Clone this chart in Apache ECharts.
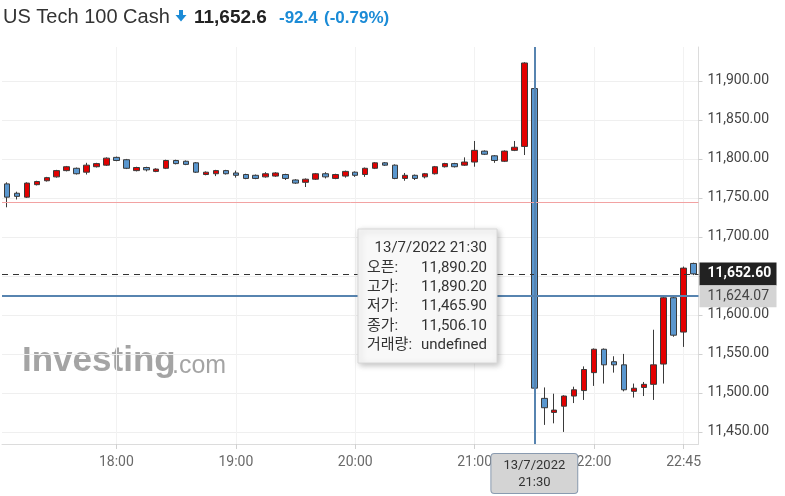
<!DOCTYPE html>
<html>
<head>
<meta charset="utf-8">
<style>
html,body{margin:0;padding:0;background:#fff;}
#chart{width:785px;height:496px;}
</style>
<script src="https://cdn.jsdelivr.net/npm/echarts@6.0.0/dist/echarts.min.js"></script>
</head>
<body>
<div id="chart"></div>
<script>
const times = ['17:05','17:10','17:15','17:20','17:25','17:30','17:35','17:40','17:45','17:50','17:55',
'18:00','18:05','18:10','18:15','18:20','18:25','18:30','18:35','18:40','18:45','18:50','18:55',
'19:00','19:05','19:10','19:15','19:20','19:25','19:30','19:35','19:40','19:45','19:50','19:55',
'20:00','20:05','20:10','20:15','20:20','20:25','20:30','20:35','20:40','20:45','20:50','20:55',
'21:00','21:05','21:10','21:15','21:20','21:25','21:30','21:35','21:40','21:45','21:50','21:55',
'22:00','22:05','22:10','22:15','22:20','22:25','22:30','22:35','22:40','22:45','22:50'];

const opens = [11768,11756,11751,11767,11772,11777,11785,11788,11783,11790,
11792,11802,11799,11785,11789,11784,11788,11798,11797,11795,
11780,11781,11785,11782,11780,11779,11777,11778,11780,11773,
11770,11774,11781,11775,11778,11783,11780,11788,11795,11792,
11775,11779,11777,11781,11790,11794,11792,11796,11810,11804,
11797,11811,11816,11890.2,11493,11475,11483,11496,11503,11526,
11556,11540,11536,11502,11507,11511,11537,11622,11578,11666];

const closes = [11751,11752,11769,11771,11776,11785,11790,11781,11792,11794,
11801,11798,11788,11789,11786,11787,11798,11794,11793,11783,
11783,11785,11781,11779,11775,11775,11781,11782,11775,11769,
11774,11781,11777,11780,11784,11779,11788,11795,11792,11775,
11779,11775,11781,11790,11794,11790,11796,11811,11806,11798,
11810,11815,11923,11506.1,11481,11478,11496,11504,11530,11556,
11536,11536,11504,11506,11511,11536,11622,11574,11660,11652.6];

const lows = [11738,11748,11750,11766,11771,11776,11784,11780,11780,11789,
11791,11797,11787,11784,11784,11783,11787,11793,11792,11782,
11779,11778,11780,11776,11774,11774,11776,11777,11773,11768,
11764,11773,11775,11774,11776,11777,11777,11787,11791,11774,
11772,11773,11775,11780,11789,11789,11791,11790,11805,11795,
11796,11810,11805,11465.9,11459,11461,11450,11487,11491,11509,
11512,11526,11502,11494,11496,11491,11512,11572,11559,11651];

const highs = [11770,11758,11770,11772,11777,11786,11791,11789,11795,11795,
11802,11803,11800,11790,11790,11788,11799,11799,11798,11796,
11784,11786,11786,11785,11781,11780,11783,11783,11781,11774,
11775,11782,11783,11781,11785,11784,11789,11796,11796,11793,
11782,11780,11782,11791,11795,11795,11802,11823,11811,11805,
11811,11823,11924,11890.2,11507,11499,11497,11508,11534,11557,
11557,11547,11550,11512,11514,11581,11623,11623,11662,11667];

const tickLabels = ['18:00','19:00','20:00','21:00','22:00','22:45'];

const titleName = 'US Tech 100 Cash';
const lastPrice = 11652.6;
const change = -92.4;
const changePct = -0.79;
const prevClose = 11745.0;
const crossPrice = 11624.07;
const crossTime = '21:30';
const crossDate = '13/7/2022';
const tipLabels = ['오픈:', '고가:', '저가:', '종가:', '거래량:'];

const fmt2 = v => v.toLocaleString('en-US', {minimumFractionDigits: 2, maximumFractionDigits: 2});
const fmt1 = v => v.toLocaleString('en-US', {minimumFractionDigits: 1, maximumFractionDigits: 1});

const ohlc = times.map((t, i) => [opens[i], closes[i], lows[i], highs[i]]);
const ci = times.indexOf(crossTime);
const tipValues = [fmt2(opens[ci]), fmt2(highs[ci]), fmt2(lows[ci]), fmt2(closes[ci]), 'undefined'];

const showTick = (idx, val) => tickLabels.indexOf(val) >= 0;

const NUMFONT = "Roboto, 'Noto Sans CJK KR', sans-serif";
const blue = '#1b8bd6';
const TZ = 200;

const tipChildren = [
  {type: 'rect', z: TZ, zlevel: 1, shape: {x: 0, y: 0, width: 139, height: 134},
   style: {fill: '#f8f8f8', stroke: '#d8d8d8', lineWidth: 1, shadowBlur: 6, shadowColor: 'rgba(0,0,0,0.25)', shadowOffsetX: 2, shadowOffsetY: 2}},
  {type: 'text', z: TZ + 1, zlevel: 1, style: {x: 129, y: 19, text: crossDate + ' ' + crossTime, font: '15px ' + NUMFONT, fill: '#333', align: 'right', verticalAlign: 'middle'}}
];
tipLabels.forEach((lab, k) => {
  tipChildren.push({type: 'text', z: TZ + 1, zlevel: 1, style: {x: 9, y: 39 + k * 19.3, text: lab, font: '15px ' + NUMFONT, fill: '#333', align: 'left', verticalAlign: 'middle'}});
  tipChildren.push({type: 'text', z: TZ + 1, zlevel: 1, style: {x: 129, y: 39 + k * 19.3, text: tipValues[k], font: '15px ' + NUMFONT, fill: '#333', align: 'right', verticalAlign: 'middle'}});
});

// split line colours (first/last lines are the plot edges: keep them invisible)
const gridColors = ['rgba(0,0,0,0)', '#efefef', '#efefef', '#efefef', '#efefef', '#efefef', '#efefef', '#efefef', '#efefef', '#efefef', '#efefef', 'rgba(0,0,0,0)'];

const chart = echarts.init(document.getElementById('chart'), null, {renderer: 'canvas'});
chart.setOption({
  animation: false,
  backgroundColor: '#fff',
  grid: {left: 2, right: 86.5, top: 47, bottom: 52},
  xAxis: {
    type: 'category',
    data: times,
    boundaryGap: true,
    axisLine: {show: true, lineStyle: {color: '#dcdcdc'}},
    axisTick: {show: true, interval: showTick, alignWithLabel: true, length: 5, lineStyle: {color: '#d0d0d0'}},
    axisLabel: {interval: showTick, color: '#6a6a6a', fontSize: 14, fontFamily: NUMFONT, margin: 12},
    splitLine: {show: true, interval: showTick, alignWithLabel: true, lineStyle: {color: '#f2f2f2'}}
  },
  yAxis: {
    type: 'value',
    position: 'right',
    min: 11434.5,
    max: 11943.5,
    splitNumber: 10,
    scale: true,
    axisLine: {show: true, lineStyle: {color: '#dcdcdc'}},
    axisTick: {show: true, length: 4, lineStyle: {color: '#d0d0d0'}},
    axisLabel: {showMinLabel: false, showMaxLabel: false, color: '#444', fontSize: 14, fontFamily: NUMFONT, margin: 9, formatter: v => fmt2(v)},
    splitLine: {show: true, lineStyle: {color: gridColors}}
  },
  series: [{
    type: 'candlestick',
    data: ohlc,
    barWidth: 6,
    itemStyle: {color: '#e30000', color0: '#5a97cf', borderColor: '#3a3a3a', borderColor0: '#3a3a3a', borderWidth: 1},
    markLine: {
      silent: true,
      symbol: 'none',
      animation: false,
      data: [
        {yAxis: prevClose, lineStyle: {color: '#f2a2a2', width: 1, type: 'solid'}, label: {show: false}},
        {yAxis: lastPrice, lineStyle: {color: '#333', width: 1, type: [6, 5]},
         label: {show: true, position: 'end', distance: 1, formatter: fmt2(lastPrice), backgroundColor: '#222', color: '#fff',
                 fontSize: 14, fontWeight: 'bold', fontFamily: NUMFONT, padding: [5, 5, 4, 8], width: 64}},
        {yAxis: crossPrice, lineStyle: {color: '#5784b0', width: 2, type: 'solid'},
         label: {show: true, position: 'end', distance: 1, formatter: fmt2(crossPrice), backgroundColor: '#d4d4d4', color: '#444',
                 fontSize: 14, fontFamily: NUMFONT, padding: [4, 5, 4, 8], width: 64}},
        {xAxis: crossTime, lineStyle: {color: '#5784b0', width: 2, type: 'solid'},
         label: {show: true, position: 'start', distance: 10, formatter: crossDate + '\n' + crossTime, backgroundColor: '#d4d4d4',
                 borderColor: '#8a9bb0', borderWidth: 1, borderRadius: 3, color: '#333', fontSize: 13, lineHeight: 17,
                 fontFamily: NUMFONT, padding: [3, 12, 2, 12], align: 'center'}}
      ]
    }
  }],
  graphic: [
    {type: 'text', z: 0, style: {x: 22, y: 361, text: 'Investing', font: 'bold 35px "Liberation Sans", Arial, sans-serif', fill: 'rgba(125,125,125,0.7)', verticalAlign: 'middle'}},
    {type: 'text', z: 0, style: {x: 172, y: 366, text: '.com', font: '25px "Liberation Sans", Arial, sans-serif', fill: 'rgba(125,125,125,0.7)', verticalAlign: 'middle'}},
    {type: 'text', z: 100, style: {x: 3, y: 17.5, text: titleName, font: '20px "Liberation Sans", Arial, sans-serif', fill: '#333', verticalAlign: 'middle'}},
    {type: 'rect', z: 100, shape: {x: 179, y: 10, width: 4, height: 6}, style: {fill: blue}},
    {type: 'polygon', z: 100, shape: {points: [[175.5, 15], [186.5, 15], [181, 21.5]]}, style: {fill: blue}},
    {type: 'text', z: 100, style: {x: 194, y: 17.5, text: fmt1(lastPrice), font: 'bold 19px "Liberation Sans", Arial, sans-serif', fill: '#222', verticalAlign: 'middle'}},
    {type: 'text', z: 100, style: {x: 279, y: 18, text: fmt1(change), font: 'bold 17px "Liberation Sans", Arial, sans-serif', fill: blue, verticalAlign: 'middle'}},
    {type: 'text', z: 100, style: {x: 324, y: 18, text: '(' + changePct.toFixed(2) + '%)', font: 'bold 17px "Liberation Sans", Arial, sans-serif', fill: blue, verticalAlign: 'middle'}},
    {type: 'group', x: 358, y: 229, children: tipChildren}
  ]
});
</script>
</body>
</html>
